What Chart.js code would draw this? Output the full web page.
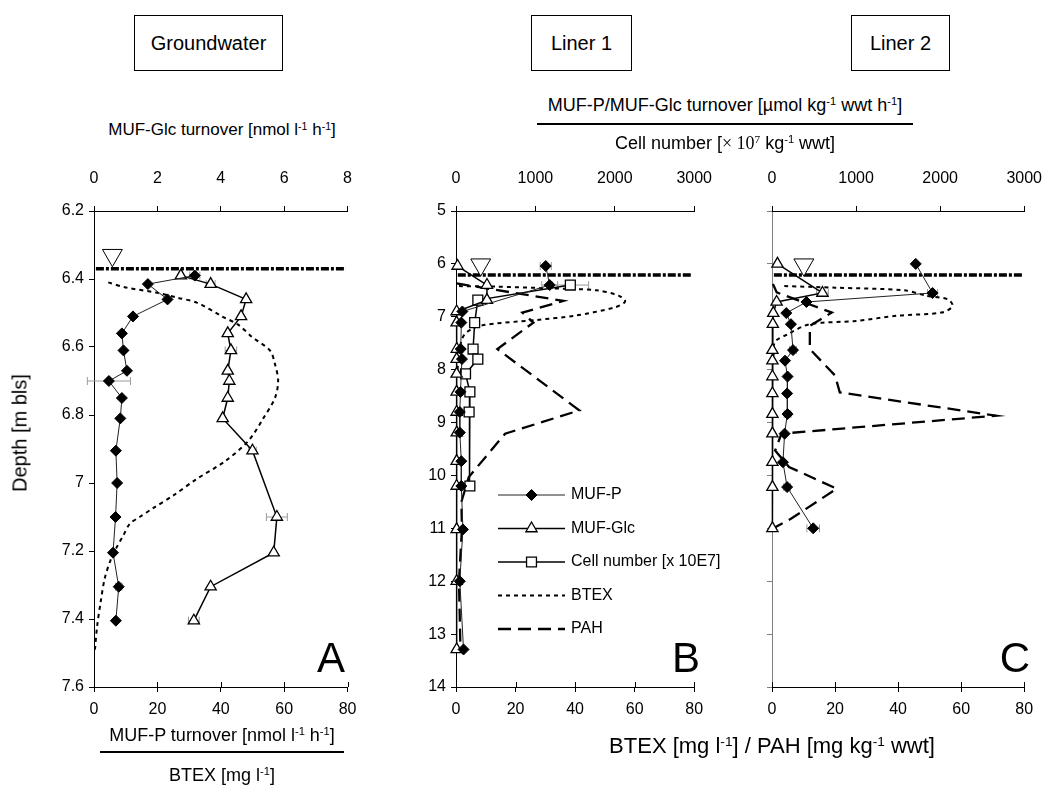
<!DOCTYPE html>
<html>
<head>
<meta charset="utf-8">
<title>Depth profiles</title>
<script src="https://cdn.jsdelivr.net/npm/chart.js@4.4.0/dist/chart.umd.min.js"></script>
<style>
  body { margin: 0; background: #fff; }
  #page { position: relative; width: 1060px; height: 790px; overflow: hidden;
          font-family: "Liberation Sans", Arial, sans-serif; color: #000; }
  canvas { position: absolute; }
  .box { position: absolute; border: 1px solid #000; box-sizing: border-box;
         display: flex; align-items: center; justify-content: center; font-size: 20px; }
  .c { position: absolute; transform: translate(-50%, -50%); white-space: nowrap; }
  .rule { position: absolute; height: 2px; background: #000; }
  sup { font-size: 0.62em; vertical-align: baseline; position: relative; top: -0.5em; }
  .serif { font-family: "Liberation Serif", "Times New Roman", serif; }
  .letter { font-size: 42px; }
</style>
</head>
<body>
<div id="page">
  <canvas id="chartA" width="370" height="590" style="left:0;top:150px"></canvas>
  <canvas id="chartB" width="330" height="590" style="left:400px;top:150px"></canvas>
  <canvas id="chartC" width="330" height="590" style="left:730px;top:150px"></canvas>

  <div class="box" style="left:134px;top:15px;width:149px;height:56px">Groundwater</div>
  <div class="box" style="left:531px;top:15px;width:101px;height:56px">Liner 1</div>
  <div class="box" style="left:851px;top:15px;width:99px;height:56px">Liner 2</div>

  <div class="c" style="left:222px;top:130px;font-size:17px">MUF-Glc turnover [nmol l<sup>-1</sup> h<sup>-1</sup>]</div>

  <div class="c" style="left:725px;top:105px;font-size:18px">MUF-P/MUF-Glc turnover [µmol kg<sup>-1</sup> wwt h<sup>-1</sup>]</div>
  <div class="rule" style="left:537px;top:123px;width:376px"></div>
  <div class="c" style="left:725px;top:143px;font-size:18px">Cell number [<span class="serif">× 10<sup>7</sup></span> kg<sup>-1</sup> wwt]</div>

  <div class="c" style="left:20px;top:433px;font-size:20px;transform:translate(-50%,-50%) rotate(-90deg)">Depth [m bls]</div>

  <div class="c" style="left:222px;top:735px;font-size:18px">MUF-P turnover [nmol l<sup>-1</sup> h<sup>-1</sup>]</div>
  <div class="rule" style="left:100px;top:751px;width:244px"></div>
  <div class="c" style="left:222px;top:775px;font-size:18px">BTEX [mg l<sup>-1</sup>]</div>

  <div class="c" style="left:772px;top:746px;font-size:22px">BTEX [mg l<sup>-1</sup>] / PAH [mg kg<sup>-1</sup> wwt]</div>

  <div class="c letter" style="left:331px;top:658px">A</div>
  <div class="c letter" style="left:686px;top:658px">B</div>
  <div class="c letter" style="left:1015px;top:658px">C</div>
</div>

<script>
// ---- Groundwater ----
var gwDepth      = [6.39, 6.415, 6.46, 6.51, 6.56, 6.61, 6.67, 6.70, 6.75, 6.81, 6.905, 7.00, 7.10, 7.205, 7.305, 7.405];
var gwMufP       = [31.8, 17.0, 23.2, 12.3, 8.8, 9.3, 10.4, 4.7, 8.8, 8.3, 6.9, 7.3, 6.8, 6.0, 7.8, 6.9];
var gwMufPErr    = [1.6, 0, 0, 0, 0, 0, 0, 6.8, 0, 0, 0, 0, 0, 0, 1.0, 0];
var gwMufGlc     = [2.74, 3.68, 4.80, 4.64, 4.22, 4.32, 4.22, 4.27, 4.22, 4.06, 5.00, null, 5.77, 5.67, 3.68, 3.15];
var gwMufGlcErr  = [0, 0.14, 0, 0, 0, 0.18, 0, 0, 0, 0, 0.12, 0, 0.33, 0, 0, 0.17];
var gwBtexDepth  = [6.41, 6.425, 6.44, 6.455, 6.47, 6.51, 6.535, 6.57, 6.61, 6.65, 6.70, 6.75, 6.81, 6.875,
                    6.935, 6.99, 7.035, 7.075, 7.10, 7.12, 7.155, 7.19, 7.22, 7.28, 7.35, 7.42, 7.49];
var gwBtex       = [4.5, 10, 19.6, 26.3, 32.6, 40.4, 45.6, 49.8, 55.5, 57.1, 58.1, 57.1, 53.4, 48.8,
                    41.5, 32.1, 25.3, 18.5, 14.4, 11.3, 9.2, 7.1, 5.5, 3.4, 2.1, 1.0, 0.3];

// ---- Liner 1 ----
var l1Depth      = [6.04, 6.40, 6.685, 6.90, 7.11, 7.61, 7.80, 8.08, 8.42, 8.80, 9.19, 9.73, 10.20, 11.02, 12.00, 13.29];
var l1MufP       = [1130, 1180, null, 80, 67, 60, 75, null, 56, 48, 48, 67, 67, 87, 48, 95];
var l1MufPErr    = [70, 100, 0, 0, 0, 0, 0, 0, 0, 0, 0, 0, 0, 0, 0, 0];
var l1MufGlc     = [20, 390, 390, 8, 8, 10, 8, 8, 8, 8, 10, 8, 8, 8, 8, 8];
var l1Cells      = [null, 1440, 275, null, 235, 215, 275, 120, 175, 165, null, null, 175, null, null, null];
var l1CellsErr   = [0, 230, 0, 0, 0, 0, 0, 0, 0, 0, 0, 0, 0, 0, 0, 0];
var l1BtexDepth  = [6.42, 6.43, 6.46, 6.50, 6.60, 6.71, 6.82, 6.98, 7.06, 7.17, 7.33, 7.58, 8.00];
var l1Btex       = [1, 13.3, 30, 47.2, 54.6, 56.8, 53.5, 39.8, 27.1, 8, 2.9, 1.3, 0.5];
var l1PahDepth   = [6.37, 6.70, 6.92, 7.11, 7.61, 8.77, 9.21, 10.03, 10.50, 11.00, 12.00, 13.29];
var l1Pah        = [0.2, 36.1, 22.3, 26, 13.9, 41.4, 16.5, 4.3, 1.8, 2.0, 1.0, 1.5];

// ---- Liner 2 ----
var l2Depth      = [6.00, 6.55, 6.72, 6.93, 7.14, 7.63, 7.83, 8.13, 8.45, 8.84, 9.21, 9.75, 10.22, 11.00];
var l2MufP       = [1710, 1910, 410, 170, 225, 250, 155, 185, 180, 185, 150, 130, 180, 490];
var l2MufPErr    = [0, 60, 0, 0, 0, 40, 0, 0, 0, 40, 0, 0, 40, 75];
var l2MufGlc     = [65, 600, 55, 15, 10, 5, 5, 5, 5, 5, 5, 5, 5, 5];
var l2MufGlcErr  = [0, 70, 0, 0, 0, 0, 0, 0, 0, 0, 0, 0, 0, 0];
var l2BtexDepth  = [6.42, 6.45, 6.50, 6.60, 6.67, 6.80, 6.92, 6.98, 7.08, 7.14, 7.33, 7.48, 7.80];
var l2Btex       = [3.9, 20, 42, 48.8, 55.8, 57.3, 53.8, 39.7, 26.6, 12, 5, 0.9, 0.5];
var l2PahDepth   = [6.38, 6.54, 6.92, 7.17, 7.61, 8.11, 8.43, 8.87, 9.21, 9.53, 9.84, 10.25, 10.82, 10.98];
var l2Pah        = [0.3, 1.5, 19, 12, 12, 20, 21.5, 71, 3, 1, 5.4, 20.5, 6, 1];

// water table per panel (groundwater, liner 1, liner 2)
var waterLevel     = [6.37, 6.21, 6.21];
var waterMarkX     = [5.8, 8.3, 10.1];
var waterMarkDepth = [6.33, 6.015, 6.015];

var FONT = '"Liberation Sans", Arial, sans-serif';

function series(depths, values, errs) {
  var out = [];
  depths.forEach(function(d, i) {
    if (values[i] == null) return;
    out.push({ x: values[i], y: d, e: errs ? errs[i] : 0 });
  });
  return out;
}

function mufP(data, axis) {
  return { label: 'MUF-P', legendText: 'MUF-P', data: data, xAxisID: axis,
    pointStyle: 'rectRot', pointRadius: 5.5, pointBackgroundColor: '#000', pointBorderColor: '#000',
    pointBorderWidth: 1, borderColor: '#222', borderWidth: 1, clip: false };
}
function mufGlc(data, axis) {
  return { label: 'MUF-Glc', legendText: 'MUF-Glc', data: data, xAxisID: axis,
    pointStyle: 'triangle', pointRadius: 6.5, pointBackgroundColor: '#fff', pointBorderColor: '#000',
    pointBorderWidth: 1.3, borderColor: '#000', borderWidth: 1.5, clip: false };
}
function cells(data) {
  return { label: 'Cells', legendText: 'Cell number [x 10E7]', data: data, xAxisID: 'x2',
    pointStyle: 'rect', pointRadius: 7, pointBackgroundColor: '#fff', pointBorderColor: '#000',
    pointBorderWidth: 1.3, borderColor: '#000', borderWidth: 1.5, clip: false };
}
function btex(data) {
  return { label: 'BTEX', legendText: 'BTEX', data: data, xAxisID: 'x', pointRadius: 0,
    borderColor: '#000', borderWidth: 2, borderDash: [4, 4], tension: 0.3, clip: false };
}
function pah(data) {
  return { label: 'PAH', legendText: 'PAH', data: data, xAxisID: 'x', pointRadius: 0,
    borderColor: '#000', borderWidth: 2.3, borderDash: [13, 7], tension: 0, clip: false };
}
function water(i) {
  return [
    { label: 'mark', data: [{ x: waterMarkX[i], y: waterMarkDepth[i] }], xAxisID: 'x', showLine: false,
      pointStyle: 'triangle', rotation: 180, pointRadius: 11.5, pointBackgroundColor: '#fff',
      pointBorderColor: '#000', pointBorderWidth: 1, clip: false },
    { label: 'level', data: [{ x: 0.6, y: waterLevel[i] }, { x: 79.5, y: waterLevel[i] }], xAxisID: 'x',
      pointRadius: 0, borderColor: '#000', borderWidth: 3.5, borderDash: [8, 2, 3, 2], clip: false }
  ];
}

// horizontal error bars, drawn under the markers
var errorBars = {
  id: 'errorBars',
  beforeDatasetsDraw: function(chart) {
    var ctx = chart.ctx;
    chart.data.datasets.forEach(function(ds, i) {
      var meta = chart.getDatasetMeta(i);
      var sx = chart.scales[ds.xAxisID];
      ctx.save();
      ctx.strokeStyle = '#9a9a9a';
      ctx.lineWidth = 1;
      meta.data.forEach(function(pt, j) {
        var p = ds.data[j];
        if (!p.e) return;
        var x0 = sx.getPixelForValue(p.x - p.e), x1 = sx.getPixelForValue(p.x + p.e);
        ctx.beginPath();
        ctx.moveTo(x0, pt.y); ctx.lineTo(x1, pt.y);
        ctx.moveTo(x0, pt.y - 4); ctx.lineTo(x0, pt.y + 4);
        ctx.moveTo(x1, pt.y - 4); ctx.lineTo(x1, pt.y + 4);
        ctx.stroke();
      });
      ctx.restore();
    });
  }
};

// bottom axis ticks cross the axis line
var innerTicks = {
  id: 'innerTicks',
  afterDraw: function(chart) {
    var s = chart.scales.x, ctx = chart.ctx;
    ctx.save();
    ctx.strokeStyle = s.options.grid.tickColor;
    ctx.lineWidth = 1;
    s.ticks.forEach(function(t) {
      var x = Math.round(s.getPixelForValue(t.value)) + 0.5;
      ctx.beginPath();
      ctx.moveTo(x, s.top); ctx.lineTo(x, s.top - 5);
      ctx.stroke();
    });
    ctx.restore();
  }
};

function drawMarker(ctx, ds, x, y) {
  var r = ds.pointRadius;
  ctx.beginPath();
  if (ds.pointStyle === 'rectRot') {
    ctx.moveTo(x, y - r); ctx.lineTo(x + r, y); ctx.lineTo(x, y + r); ctx.lineTo(x - r, y);
  } else if (ds.pointStyle === 'triangle') {
    ctx.moveTo(x, y - r);
    ctx.lineTo(x + r * Math.sin(2 * Math.PI / 3), y - r * Math.cos(2 * Math.PI / 3));
    ctx.lineTo(x + r * Math.sin(4 * Math.PI / 3), y - r * Math.cos(4 * Math.PI / 3));
  } else {
    var h = r * Math.SQRT1_2;
    ctx.rect(x - h, y - h, 2 * h, 2 * h);
  }
  ctx.closePath();
  ctx.fillStyle = ds.pointBackgroundColor;
  ctx.strokeStyle = ds.pointBorderColor;
  ctx.lineWidth = ds.pointBorderWidth;
  ctx.fill();
  ctx.stroke();
}

// legend placed inside the plot area
var innerLegend = {
  id: 'innerLegend',
  afterDraw: function(chart, args, opts) {
    if (!opts.show) return;
    var ctx = chart.ctx, a = chart.chartArea;
    var x = a.left + opts.dx, y = a.top + opts.dy;
    ctx.save();
    ctx.font = '16px ' + FONT;
    ctx.textBaseline = 'middle';
    chart.data.datasets.forEach(function(ds) {
      if (!ds.legendText) return;
      ctx.strokeStyle = ds.borderColor;
      ctx.lineWidth = ds.borderWidth;
      ctx.setLineDash(ds.borderDash || []);
      ctx.beginPath();
      ctx.moveTo(x, y); ctx.lineTo(x + opts.lineLen, y);
      ctx.stroke();
      ctx.setLineDash([]);
      if (ds.pointRadius) drawMarker(ctx, ds, x + opts.lineLen / 2, y);
      ctx.fillStyle = '#000';
      ctx.fillText(ds.legendText, x + opts.lineLen + 6, y);
      y += opts.step;
    });
    ctx.restore();
  }
};

function axis(pos, min, max, step, size, pad, color) {
  return {
    type: 'linear', position: pos, min: min, max: max,
    grid: { drawOnChartArea: false, drawTicks: true, tickLength: 5, tickColor: color, tickWidth: 1 },
    border: { color: color, width: 1 },
    ticks: { stepSize: step, padding: pad, color: '#000', autoSkip: false, font: { family: FONT, size: 16 },
             callback: function(v) { return String(+v.toFixed(1)); } },
    afterFit: function(s) { if (pos === 'left') s.width = size; else s.height = size; }
  };
}

function makeChart(id, datasets, o) {
  var y = axis('left', o.yMin, o.yMax, o.yStep, o.yWidth, 5, o.yColor || '#000');
  y.reverse = true;
  if (!o.yLabels) y.ticks.callback = function() { return ''; };
  var x = axis('bottom', 0, 80, 20, 53, 8, '#000');
  var x2 = axis('top', 0, o.topMax, o.topStep, 61, 18, '#000');
  return new Chart(document.getElementById(id), {
    type: 'scatter',
    data: { datasets: datasets.map(function(d) { if (d.showLine === undefined) d.showLine = true; return d; }) },
    options: {
      responsive: false, animation: false, devicePixelRatio: 1,
      layout: { padding: { left: 0, right: o.padRight, top: 0, bottom: 0 } },
      scales: { y: y, x: x, x2: x2 },
      plugins: { legend: { display: false }, tooltip: { enabled: false },
                 innerLegend: o.legend || { show: false } }
    },
    plugins: [errorBars, innerTicks, innerLegend]
  });
}

makeChart('chartA', [
  water(0)[0],
  mufP(series(gwDepth, gwMufP, gwMufPErr), 'x'),
  mufGlc(series(gwDepth, gwMufGlc, gwMufGlcErr), 'x2'),
  water(0)[1],
  btex(series(gwBtexDepth, gwBtex))
], { yMin: 6.2, yMax: 7.6, yStep: 0.2, yWidth: 94, yLabels: true, topMax: 8, topStep: 2, padRight: 19 });

makeChart('chartB', [
  water(1)[0],
  mufP(series(l1Depth, l1MufP, l1MufPErr), 'x2'),
  mufGlc(series(l1Depth, l1MufGlc), 'x2'),
  cells(series(l1Depth, l1Cells, l1CellsErr)),
  water(1)[1],
  btex(series(l1BtexDepth, l1Btex)),
  pah(series(l1PahDepth, l1Pah))
], { yMin: 5, yMax: 14, yStep: 1, yWidth: 56, yLabels: true, topMax: 3000, topStep: 1000, padRight: 22,
     legend: { show: true, dx: 42, dy: 284, step: 33.5, lineLen: 67 } });

makeChart('chartC', [
  water(2)[0],
  mufP(series(l2Depth, l2MufP, l2MufPErr), 'x2'),
  mufGlc(series(l2Depth, l2MufGlc, l2MufGlcErr), 'x2'),
  water(2)[1],
  btex(series(l2BtexDepth, l2Btex)),
  pah(series(l2PahDepth, l2Pah))
], { yMin: 5, yMax: 14, yStep: 1, yWidth: 42, yLabels: false, yColor: '#808080',
     topMax: 3000, topStep: 1000, padRight: 24 });
</script>
</body>
</html>
